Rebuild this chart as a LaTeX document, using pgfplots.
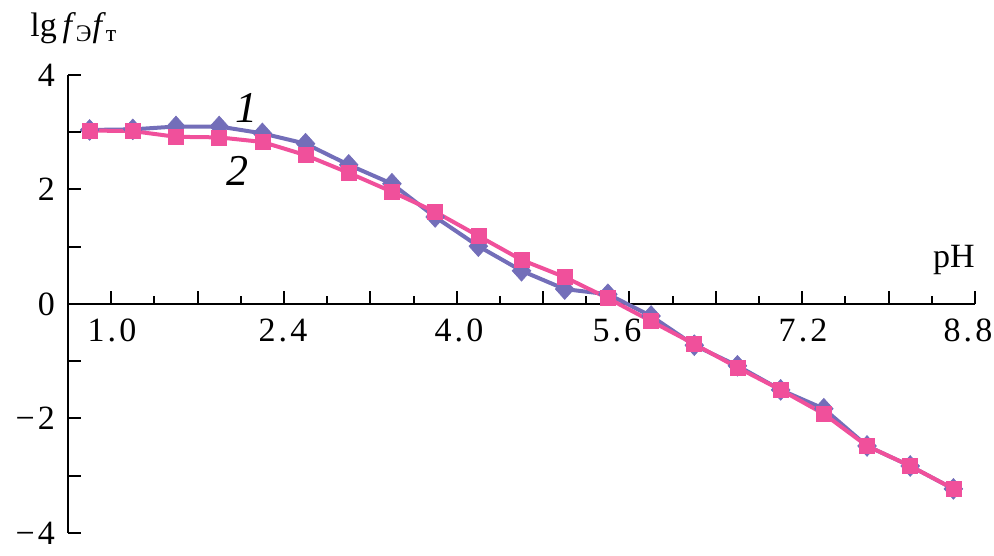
\documentclass[border=0pt]{standalone}
\usepackage{fontspec}
\setmainfont{Liberation Serif}
\usepackage{pgfplots}
\pgfplotsset{compat=1.18}

\definecolor{serA}{HTML}{736EB9}
\definecolor{serB}{HTML}{F0509B}

\begin{document}
\begin{tikzpicture}[
  xlab/.style={anchor=base, inner sep=0pt,
    font=\fontsize{17}{17}\selectfont\addfontfeature{LetterSpace=9}},
]
\begin{axis}[
  scale only axis, width=453.5pt, height=229pt,
  xmin=0.4, xmax=8.8, ymin=-4, ymax=4,
  axis x line*=middle, axis y line*=left,
  axis line style={line width=1pt, black},
  every tick/.style={black, line width=1pt},
  tick align=inside,
  xtick={0.8,1.6,2.4,3.2,4.0,4.8,5.6,6.4,7.2,8.0,8.8},
  xticklabels={},
  minor xtick={1.2,2.0,2.8,3.6,4.4,5.2,6.0,6.8,7.6,8.4},
  ytick={-4,-3,-2,-1,0,1,2,3,4},
  yticklabels={−4,,−2,,0,,2,,4},
  major tick length=6.6pt, minor tick length=3.8pt,
  tick label style={font=\fontsize{17}{17}\selectfont\addfontfeature{LetterSpace=9}},
  yticklabel style={xshift=-3pt},
  clip=false,
]
\addplot[serA, line width=2pt, mark=diamond*, mark size=5.2pt,
  mark options={xscale=1.2, line width=0.3pt}] coordinates {
  (0.6,3.04) (1.0,3.05) (1.4,3.10) (1.8,3.10) (2.2,2.98) (2.6,2.80)
  (3.0,2.43) (3.4,2.10) (3.8,1.52) (4.2,1.01) (4.6,0.58) (5.0,0.26)
  (5.4,0.17) (5.8,-0.21) (6.2,-0.72) (6.6,-1.08) (7.0,-1.50) (7.4,-1.83)
  (7.8,-2.48) (8.2,-2.83) (8.6,-3.23)
};
\addplot[serB, line width=2pt, mark=square*, mark size=3.75pt,
  mark options={line width=0.3pt}] coordinates {
  (0.6,3.03) (1.0,3.02) (1.4,2.92) (1.8,2.91) (2.2,2.83) (2.6,2.60)
  (3.0,2.29) (3.4,1.96) (3.8,1.61) (4.2,1.19) (4.6,0.77) (5.0,0.47)
  (5.4,0.10) (5.8,-0.30) (6.2,-0.70) (6.6,-1.11) (7.0,-1.50) (7.4,-1.92)
  (7.8,-2.48) (8.2,-2.83) (8.6,-3.23)
};
% x tick labels, placed where the original has them
\node[xlab] at (axis cs:0.807,-0.664) {1.0};
\node[xlab] at (axis cs:2.391,-0.664) {2.4};
\node[xlab] at (axis cs:4.021,-0.664) {4.0};
\node[xlab] at (axis cs:5.484,-0.664) {5.6};
\node[xlab] at (axis cs:7.207,-0.664) {7.2};
\node[xlab] at (axis cs:8.735,-0.664) {8.8};
\node[anchor=base west, font=\fontsize{17}{17}\selectfont, inner sep=0pt]
  at (axis cs:0.048,4.68) {lg\,\textit{f}\textsubscript{Э}\textit{f}\textsubscript{т}};
\node[anchor=base east, font=\fontsize{17}{17}\selectfont, inner sep=0pt]
  at (axis cs:8.8,0.63) {pH};
\node[font=\fontsize{22}{22}\itshape, inner sep=0pt] at (axis cs:2.057,3.42) {1};
\node[font=\fontsize{22}{22}\itshape, inner sep=0pt] at (axis cs:1.97,2.32) {2};
\coordinate (bl) at (axis cs:-0.23,-4.40);
\coordinate (tr) at (axis cs:8.976,5.31);
\end{axis}
\pgfresetboundingbox
\path (bl) rectangle (tr);
\end{tikzpicture}
\end{document}
